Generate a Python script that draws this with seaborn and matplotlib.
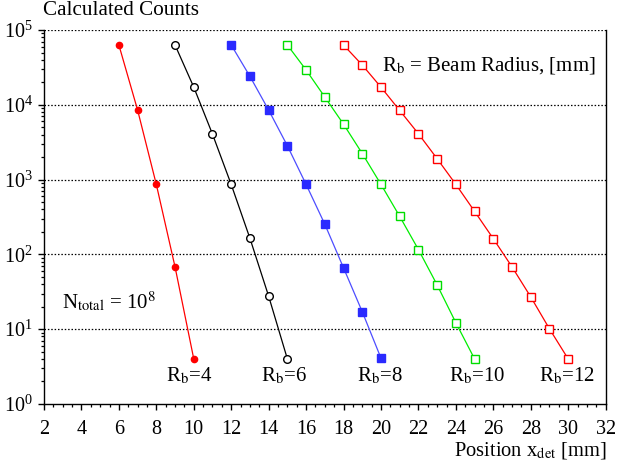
import matplotlib
matplotlib.use('agg')
import matplotlib.pyplot as plt
import matplotlib.ticker as mticker
import seaborn as sns
import pandas as pd

# positions [mm] and calculated counts for each beam radius
x_rb4 = [6, 7, 8, 9, 10]
y_rb4 = [6.3e4, 8.5e3, 860, 68, 4.0]

x_rb6 = [9, 10, 11, 12, 13, 14, 15]
y_rb6 = [6.3e4, 1.72e4, 4.05e3, 860, 164, 27.6, 4.0]

x_rb8 = [12, 13, 14, 15, 16, 17, 18, 19, 20]
y_rb8 = [6.3e4, 2.4e4, 8.5e3, 2.83e3, 862, 253, 66, 17.1, 4.1]

x_rb10 = [15, 16, 17, 18, 19, 20, 21, 22, 23, 24, 25]
y_rb10 = [6.3e4, 2.92e4, 1.27e4, 5.5e3, 2.23e3, 862, 322, 116, 39, 12.2, 4.0]

x_rb12 = [18, 19, 20, 21, 22, 23, 24, 25, 26, 27, 28, 29, 30]
y_rb12 = [6.3e4, 3.4e4, 1.72e4, 8.4e3, 4.1e3, 1.9e3, 862, 376, 162, 68, 27, 10.1, 4.0]

radii = [4, 6, 8, 10, 12]
label_x = [9.77, 14.8, 19.93, 25.16, 29.94]

sns.set_theme(style='white')
plt.rcParams['font.family'] = ['Liberation Serif', 'DejaVu Serif']
plt.rcParams['mathtext.fontset'] = 'stix'
plt.rcParams['text.color'] = 'black'

fig = plt.figure(figsize=(6.18, 4.65), dpi=100)
ax = fig.add_axes([0.0712, 0.1312, 0.9088, 0.8043])

styles = [
    (x_rb4, y_rb4, dict(color='#ff0000', marker='o', markersize=4.5, markerfacecolor='#ff0000', markeredgecolor='#ff0000')),
    (x_rb6, y_rb6, dict(color='#000000', marker='o', markersize=5.5, markerfacecolor='white', markeredgecolor='#000000')),
    (x_rb8, y_rb8, dict(color='#4d4dff', marker='s', markersize=5.5, markerfacecolor='#2a2aff', markeredgecolor='#2a2aff')),
    (x_rb10, y_rb10, dict(color='#00ee00', marker='s', markersize=5.5, markerfacecolor='white', markeredgecolor='#00dd00')),
    (x_rb12, y_rb12, dict(color='#ff0000', marker='s', markersize=5.5, markerfacecolor='white', markeredgecolor='#ff0000')),
]
for xs, ys, kw in styles:
    df = pd.DataFrame({'x': xs, 'y': ys})
    sns.lineplot(data=df, x='x', y='y', ax=ax, linewidth=0.9, markeredgewidth=1.0, **kw)

ax.set_yscale('log')
ax.set_xlim(2, 32)
ax.set_ylim(1, 1e5)

ax.xaxis.set_major_locator(mticker.MultipleLocator(2))
ax.xaxis.set_minor_locator(mticker.MultipleLocator(0.5))
ax.yaxis.set_major_locator(mticker.LogLocator(base=10, numticks=10))
ax.yaxis.set_minor_locator(mticker.LogLocator(base=10, subs=range(2, 10), numticks=20))
ax.yaxis.set_minor_formatter(mticker.NullFormatter())
ax.tick_params(which='both', direction='out', colors='black', labelsize=14.5,
               top=False, right=False, bottom=True, left=True)
ax.tick_params(axis='x', which='major', length=4, width=1.0, pad=7.5)
ax.tick_params(axis='y', which='major', length=4, width=1.0, pad=4)
ax.tick_params(which='minor', length=2, width=0.9)

for yv in [1e1, 1e2, 1e3, 1e4, 1e5]:
    ax.axhline(yv, color='black', linestyle=(0, (1.2, 1.5)), linewidth=0.9, zorder=0)

ax.spines['top'].set_visible(False)
for side in ['left', 'bottom', 'right']:
    ax.spines[side].set_color('black')
    ax.spines[side].set_linewidth(1.0)

ax.set_xlabel('')
ax.set_ylabel('')
fig.text(0.982, 0.032, r'Position x$_{\mathrm{det}}$ [mm]', ha='right', va='center', fontsize=14.8)
fig.text(0.069, 0.978, 'Calculated Counts', ha='left', va='center', fontsize=15.2)

for r, lx in zip(radii, label_x):
    ax.text(lx, 2.38, r'R$_{\mathrm{b}}$=%d' % r, ha='center', va='center', fontsize=15)

ax.text(0.601, 0.906, r'R$_{\mathrm{b}}$ = Beam Radius, [mm]', transform=ax.transAxes,
        ha='left', va='center', fontsize=15)
ax.text(0.0315, 0.2735, r'N$_{\mathrm{total}}$ = 10$^{8}$', transform=ax.transAxes,
        ha='left', va='center', fontsize=15)

fig.savefig('out.png', dpi=100)
